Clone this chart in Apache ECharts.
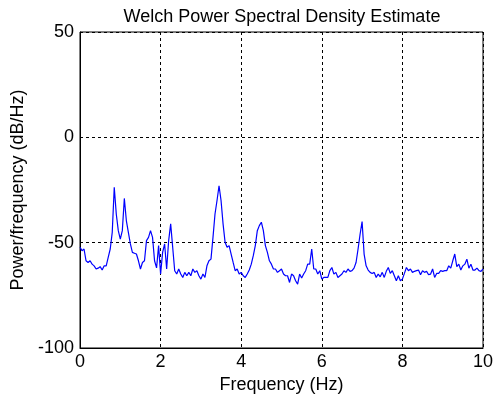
<!DOCTYPE html>
<html>
<head>
<meta charset="utf-8">
<script src="https://cdn.jsdelivr.net/npm/echarts@6/dist/echarts.min.js"></script>
<style>html,body{margin:0;padding:0;background:#fff;}#c{width:496px;height:400px;}</style>
</head>
<body>
<div id="c"></div>
<script>
// Frequency grid step (Hz) for the PSD samples below
const freqStep = 0.05;
// Welch PSD estimate (dB/Hz), one value per frequency bin 0..10 Hz
const psd = [
  -52.2, -53.8, -53.0, -58.6, -59.4, -58.6, -60.2, -61.0, -62.5, -62.1,
  -61.4, -63.0, -61.0, -61.0, -57.0, -53.0, -45.1, -23.7, -36.4, -44.3,
  -48.3, -44.3, -29.0, -39.5, -45.1, -50.6, -54.6, -55.0, -55.4, -58.6,
  -62.5, -59.4, -58.6, -49.0, -47.5, -44.3, -47.5, -58.6, -62.0, -51.4,
  -64.9, -54.6, -50.6, -62.5, -49.0, -41.1, -52.2, -63.3, -64.9, -62.5,
  -64.9, -66.5, -64.1, -65.7, -64.1, -65.7, -62.5, -64.1, -63.3, -65.7,
  -67.3, -64.9, -66.5, -61.0, -58.6, -57.8, -47.5, -36.4, -30.0, -23.0,
  -30.0, -41.1, -49.8, -52.2, -51.4, -55.4, -59.4, -63.3, -62.5, -64.9,
  -64.1, -65.7, -66.5, -64.9, -63.0, -60.2, -56.2, -51.4, -44.3, -41.9,
  -40.3, -44.3, -51.4, -54.6, -58.6, -60.2, -62.5, -62.5, -64.1, -63.3,
  -62.5, -64.9, -65.7, -65.7, -68.9, -64.9, -65.7, -68.1, -69.7, -64.9,
  -66.8, -64.9, -63.3, -60.2, -60.2, -53.0, -62.5, -62.5, -64.9, -63.3,
  -67.3, -66.5, -66.5, -66.5, -63.3, -61.8, -64.9, -64.1, -66.5, -65.7,
  -64.9, -63.3, -64.1, -62.5, -63.6, -63.3, -62.1, -59.4, -53.0, -46.0,
  -40.0, -55.4, -61.0, -63.0, -64.1, -64.6, -64.1, -66.5, -64.9, -66.2,
  -64.1, -66.5, -63.6, -61.8, -64.6, -63.3, -65.7, -68.1, -65.7, -68.1,
  -67.3, -64.6, -61.8, -63.3, -62.5, -64.1, -63.6, -63.3, -63.0, -65.2,
  -63.3, -64.1, -63.6, -65.2, -64.9, -62.5, -66.5, -64.6, -64.6, -63.3,
  -63.6, -63.3, -63.3, -61.0, -62.1, -58.6, -55.4, -61.4, -60.2, -63.0,
  -61.0, -60.2, -57.8, -62.1, -60.2, -63.0, -63.0, -62.1, -63.3, -63.6,
  -62.5
];
const xTicks = [0, 2, 4, 6, 8, 10];
const yTicks = [-100, -50, 0, 50];

const points = psd.map((v, i) => [+(i * freqStep).toFixed(2), v]);

const chart = echarts.init(document.getElementById('c'), null, {renderer: 'canvas'});
const font = 'Liberation Sans, Arial, sans-serif';
chart.setOption({
  animation: false,
  backgroundColor: '#fff',
  title: {
    text: 'Welch Power Spectral Density Estimate',
    left: 277, top: 3, textAlign: 'center',
    textStyle: {fontFamily: font, fontSize: 18, fontWeight: 'normal', color: '#000'}
  },
  grid: {left: 80, right: 9, top: 32, bottom: 52, show: true, borderColor: '#000', borderWidth: 1, backgroundColor: 'transparent'},
  xAxis: {
    type: 'value', min: xTicks[0], max: xTicks[xTicks.length - 1], interval: 2,
    name: 'Frequency (Hz)', nameLocation: 'middle', nameGap: 27,
    nameTextStyle: {fontFamily: font, fontSize: 18, color: '#000'},
    axisLine: {show: true, onZero: false, lineStyle: {color: '#000'}},
    axisTick: {show: false},
    axisLabel: {fontFamily: font, fontSize: 18, color: '#000', margin: 5},
    splitLine: {show: true, lineStyle: {color: '#000', type: [3, 3], width: 1}}
  },
  yAxis: {
    type: 'value', min: yTicks[0], max: yTicks[yTicks.length - 1], interval: 50,
    name: 'Power/frequency (dB/Hz)', nameLocation: 'middle', nameGap: 47,
    nameTextStyle: {fontFamily: font, fontSize: 18, color: '#000'},
    axisLine: {show: true, onZero: false, lineStyle: {color: '#000'}},
    axisTick: {show: false},
    axisLabel: {fontFamily: font, fontSize: 18, color: '#000', margin: 6},
    splitLine: {show: true, lineStyle: {color: '#000', type: [3, 3], width: 1}}
  },
  series: [{
    type: 'line', data: points, showSymbol: false, symbol: 'none',
    lineStyle: {color: '#0000ff', width: 1.2}, itemStyle: {color: '#0000ff'}
  }]
});
</script>
</body>
</html>
